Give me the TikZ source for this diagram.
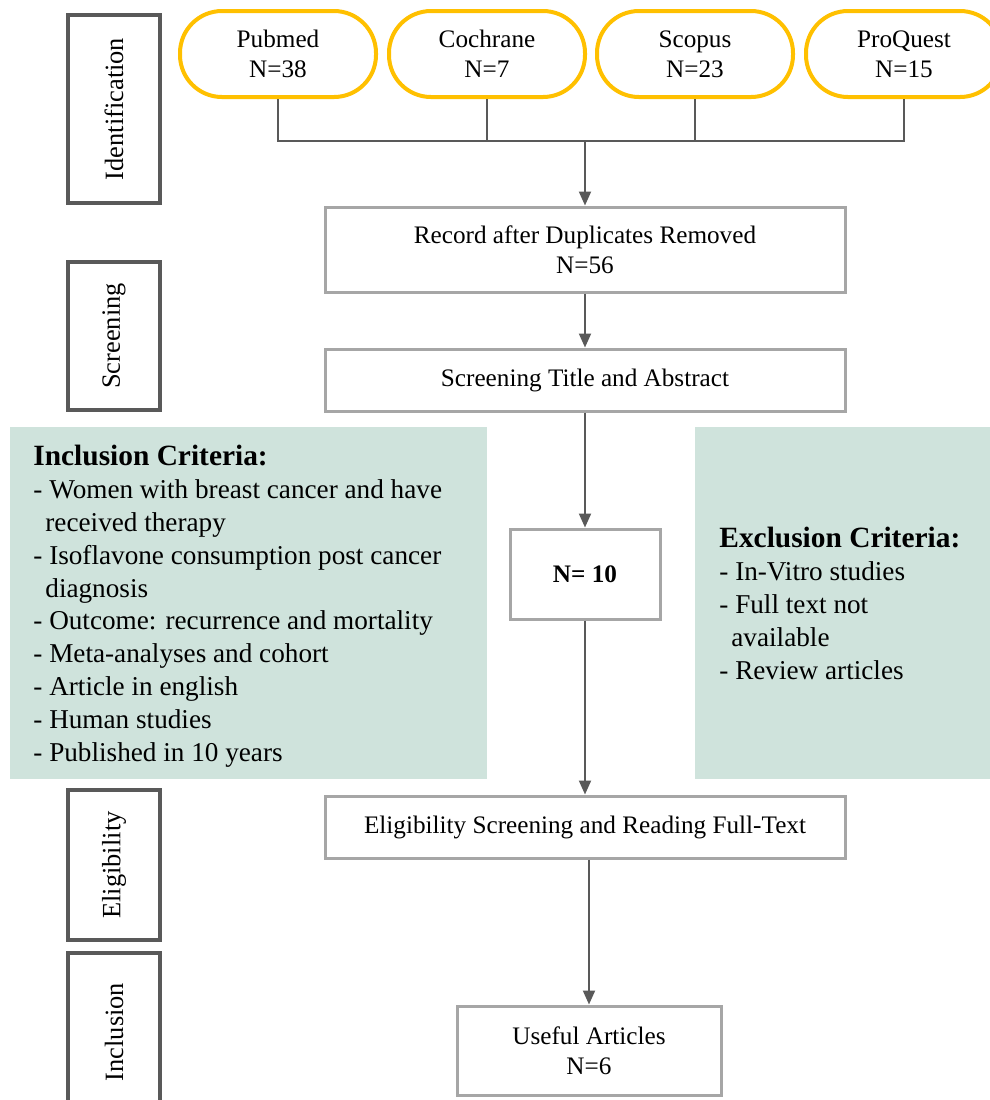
\documentclass[tikz,border=0pt]{standalone}
\usepackage{fontspec}
\setmainfont{Liberation Serif}
\usetikzlibrary{arrows.meta}

\definecolor{phasegray}{RGB}{89,89,89}
\definecolor{boxgray}{RGB}{166,166,166}
\definecolor{srcyellow}{RGB}{255,192,0}
\definecolor{critgreen}{RGB}{207,227,220}

\begin{document}
\begin{tikzpicture}[x=0.5pt, y=-0.5pt,
  phase/.style={draw=phasegray, line width=2pt, rotate=90, minimum height=46pt,
    font=\fontsize{13.2}{15}\selectfont},
  source/.style={draw=srcyellow, line width=2pt, rounded corners=21pt,
    minimum width=98pt, minimum height=43pt, align=center,
    font=\fontsize{12.6}{15}\selectfont},
  stage/.style={draw=boxgray, line width=1.5pt, align=center,
    font=\fontsize{12.6}{15}\selectfont},
  crit/.style={fill=critgreen, minimum height=176pt},
  crittext/.style={anchor=north west, inner sep=0pt, align=left,
    font=\fontsize{13.6}{16.4}\selectfont},
  link/.style={draw=phasegray, line width=1pt},
  arr/.style={link, -{Triangle[width=6pt,length=7pt]}},
]

  \useasboundingbox (0,0) rectangle (990,1100);

  % Phase labels
  \node[phase, minimum width=94pt] (ident) at (114,109) {Identification};
  \node[phase, minimum width=74pt] (screen) at (114,336) {Screening};
  \node[phase, minimum width=75pt] (elig) at (114,865) {Eligibility};
  \node[phase, minimum width=79pt] (incl) at (114,1032) {Inclusion};

  % Databases
  \node[source] (pubmed) at (278,54) {Pubmed\\N=38};
  \node[source] (cochrane) at (487,54) {Cochrane\\N=7};
  \node[source] (scopus) at (695,54) {Scopus\\N=23};
  \node[source] (proquest) at (904,54) {ProQuest\\N=15};
  \coordinate (merge) at (585,141);

  % Criteria panels
  \node[crit, minimum width=238.5pt] (inclbox) at (248.5,603) {};
  \node[crit, minimum width=147.5pt] (exclbox) at (842.5,603) {};
  \node[crittext] (incltext) at (33,445) {%
    {\fontsize{14.7}{16.4}\selectfont\bfseries Inclusion Criteria:}\\
    - Women with breast cancer and have\\
    \hspace*{6pt}received therapy\\
    - Isoflavone consumption post cancer\\
    \hspace*{6pt}diagnosis\\
    - Outcome: recurrence and mortality\\
    - Meta-analyses and cohort\\
    - Article in english\\
    - Human studies\\
    - Published in 10 years};
  \node[crittext] (excltext) at (719,527) {%
    {\fontsize{14.7}{16.4}\selectfont\bfseries Exclusion Criteria:}\\
    - In-Vitro studies\\
    - Full text not\\
    \hspace*{6pt}available\\
    - Review articles};

  % Flow boxes
  \node[stage, minimum width=260pt, minimum height=42.5pt] (record) at (585,249.5)
    {Record after Duplicates Removed\\N=56};
  \node[stage, minimum width=260pt, minimum height=31pt] (title) at (585,380)
    {Screening Title and Abstract};
  \node[stage, minimum width=75pt, minimum height=45pt] (nten) at (585,574)
    {\bfseries N= 10};
  \node[stage, minimum width=260pt, minimum height=31pt] (fulltext) at (585,827)
    {Eligibility Screening and Reading Full-Text};
  \node[stage, minimum width=132pt, minimum height=44.5pt] (useful) at (589,1050.5)
    {Useful Articles\\N=6};

  % Connectors
  \draw[link] (pubmed.south) |- (merge);
  \draw[link] (cochrane.south) |- (merge);
  \draw[link] (scopus.south) |- (merge);
  \draw[link] (proquest.south) |- (merge);
  \draw[arr] (merge) -- (record);
  \draw[arr] (record) -- (title);
  \draw[arr] (title) -- (nten);
  \draw[arr] (nten) -- (fulltext);
  \draw[arr] (fulltext.south -| useful) -- (useful);

\end{tikzpicture}
\end{document}
